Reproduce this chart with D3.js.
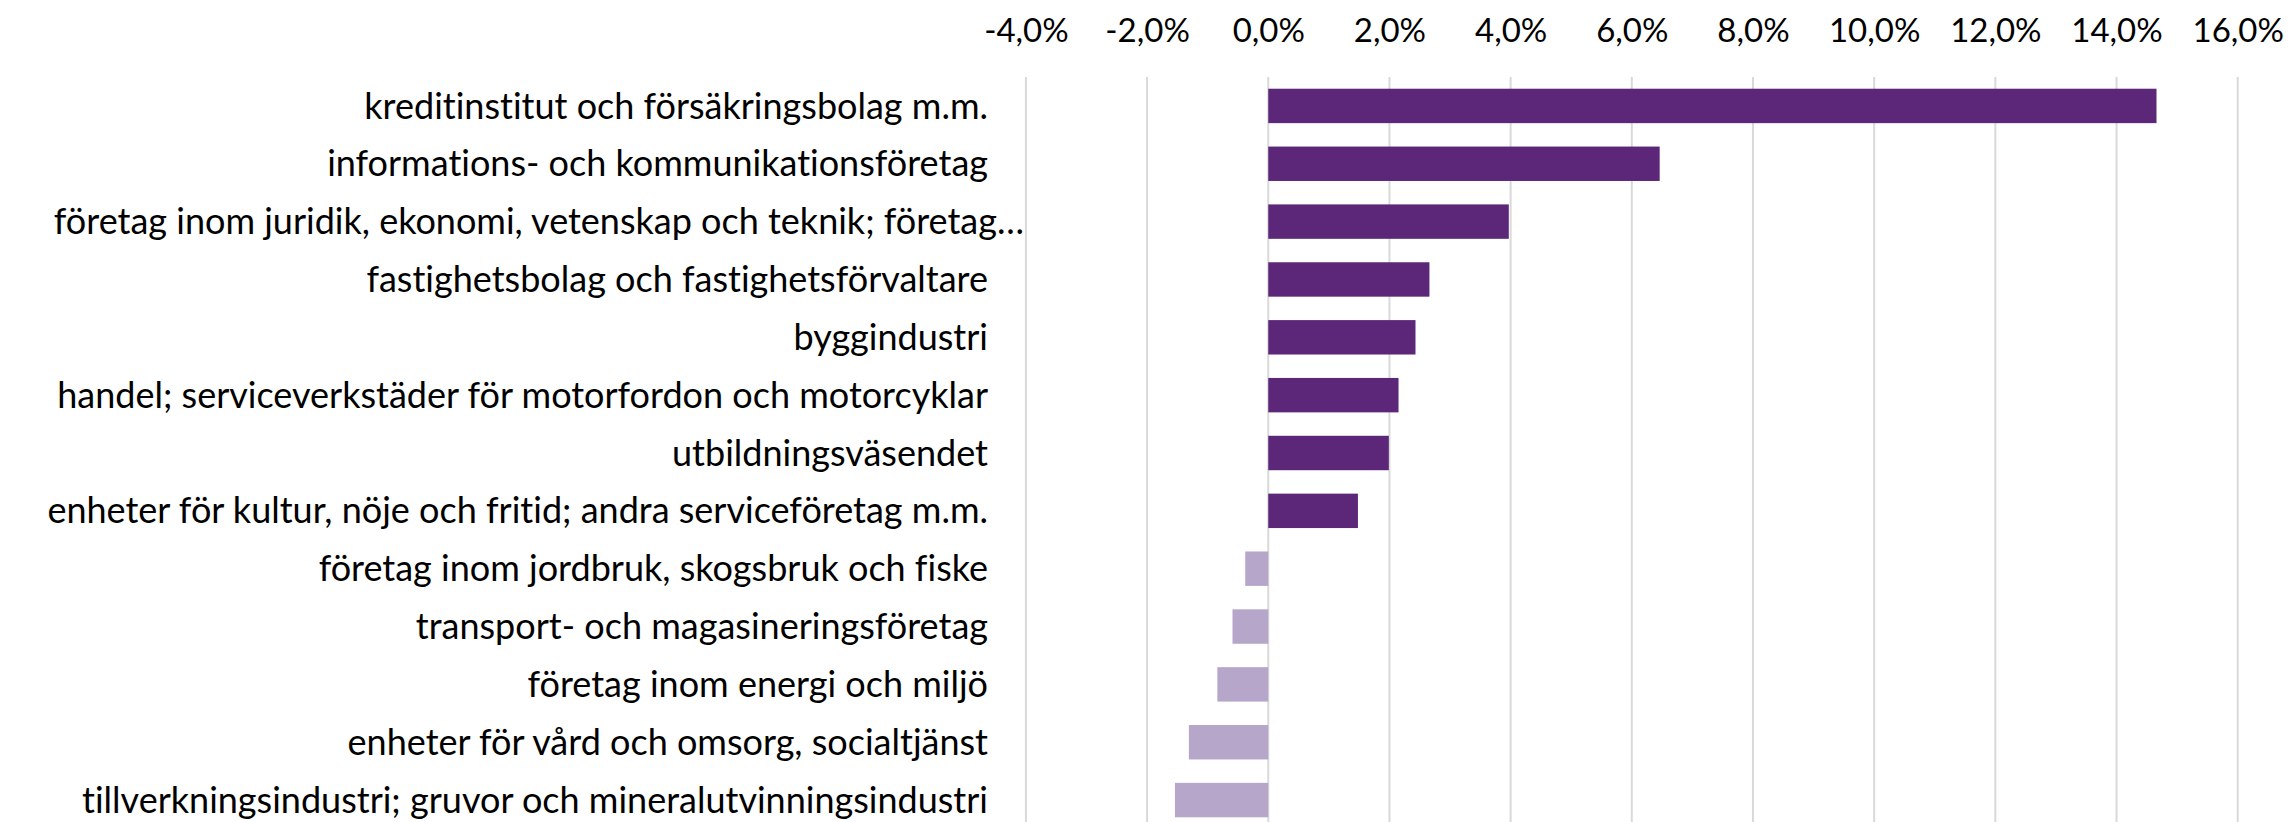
<!DOCTYPE html>
<head>
    <meta charset="utf-8">
    <script src="https://d3js.org/d3.v7.min.js"></script>
    <style>
        body {
            margin: 0;
            background: #fff;
        }

        svg text {
            font-family: Lato, "Open Sans", sans-serif;
            font-variant-ligatures: none;
            font-feature-settings: "liga" 0, "clig" 0;
            fill: #000;
        }
    </style>
</head>

<body>
    <svg id="chart" width="2289" height="822"></svg>
    <script type="text/javascript">
        var categories = [
            "kreditinstitut och försäkringsbolag m.m.",
            "informations- och kommunikationsföretag",
            "företag inom juridik, ekonomi, vetenskap och teknik; företag…",
            "fastighetsbolag och fastighetsförvaltare",
            "byggindustri",
            "handel; serviceverkstäder för motorfordon och motorcyklar",
            "utbildningsväsendet",
            "enheter för kultur, nöje och fritid; andra serviceföretag m.m.",
            "företag inom jordbruk, skogsbruk och fiske",
            "transport- och magasineringsföretag",
            "företag inom energi och miljö",
            "enheter för vård och omsorg, socialtjänst",
            "tillverkningsindustri; gruvor och mineralutvinningsindustri"
        ];
        var values = [14.66, 6.46, 3.97, 2.66, 2.43, 2.15, 1.99, 1.48, -0.38, -0.59, -0.84, -1.31, -1.54];
        var tickValues = [-4, -2, 0, 2, 4, 6, 8, 10, 12, 14, 16];

        var svg = d3.select("#chart");

        var x = d3.scaleLinear().domain([-4, 16]).range([1025.9, 2237.7]);
        var y = d3.scaleBand()
            .domain(categories)
            .range([77, 829])
            .paddingInner(0.405)
            .paddingOuter(0.2025);

        var fmt = function (d) {
            return d.toFixed(1).replace(".", ",") + "%";
        };

        // gridlines
        svg.append("g")
            .selectAll("line")
            .data(tickValues)
            .join("line")
            .attr("x1", function (d) { return x(d); })
            .attr("x2", function (d) { return x(d); })
            .attr("y1", 77)
            .attr("y2", 822)
            .attr("stroke", "#d9d9d9")
            .attr("stroke-width", 2);

        // top axis labels
        var axis = svg.append("g")
            .attr("transform", "translate(0,77)")
            .call(d3.axisTop(x).tickValues(tickValues).tickFormat(fmt).tickSize(0).tickPadding(35));
        axis.select(".domain").remove();
        axis.selectAll("text")
            .style("font-size", "33px")
            .style("font-family", "Lato, sans-serif")
            .attr("fill", "#000");

        // bars
        svg.append("g")
            .selectAll("rect")
            .data(values)
            .join("rect")
            .attr("x", function (d) { return x(Math.min(0, d)); })
            .attr("y", function (d, i) { return y(categories[i]); })
            .attr("width", function (d) { return Math.abs(x(d) - x(0)); })
            .attr("height", y.bandwidth())
            .attr("fill", function (d) { return d >= 0 ? "#5c2779" : "#b5a6ca"; });

        // category labels (the cut-off one runs a bit further right, like Excel does)
        svg.append("g")
            .selectAll("text")
            .data(categories)
            .join("text")
            .attr("x", function (d) { return d.endsWith("…") ? 1024 : 988; })
            .attr("y", function (d) { return y(d) + y.bandwidth() / 2; })
            .attr("dy", "0.35em")
            .attr("text-anchor", "end")
            .style("font-size", "36px")
            .text(function (d) { return d; });
    </script>
</body>
